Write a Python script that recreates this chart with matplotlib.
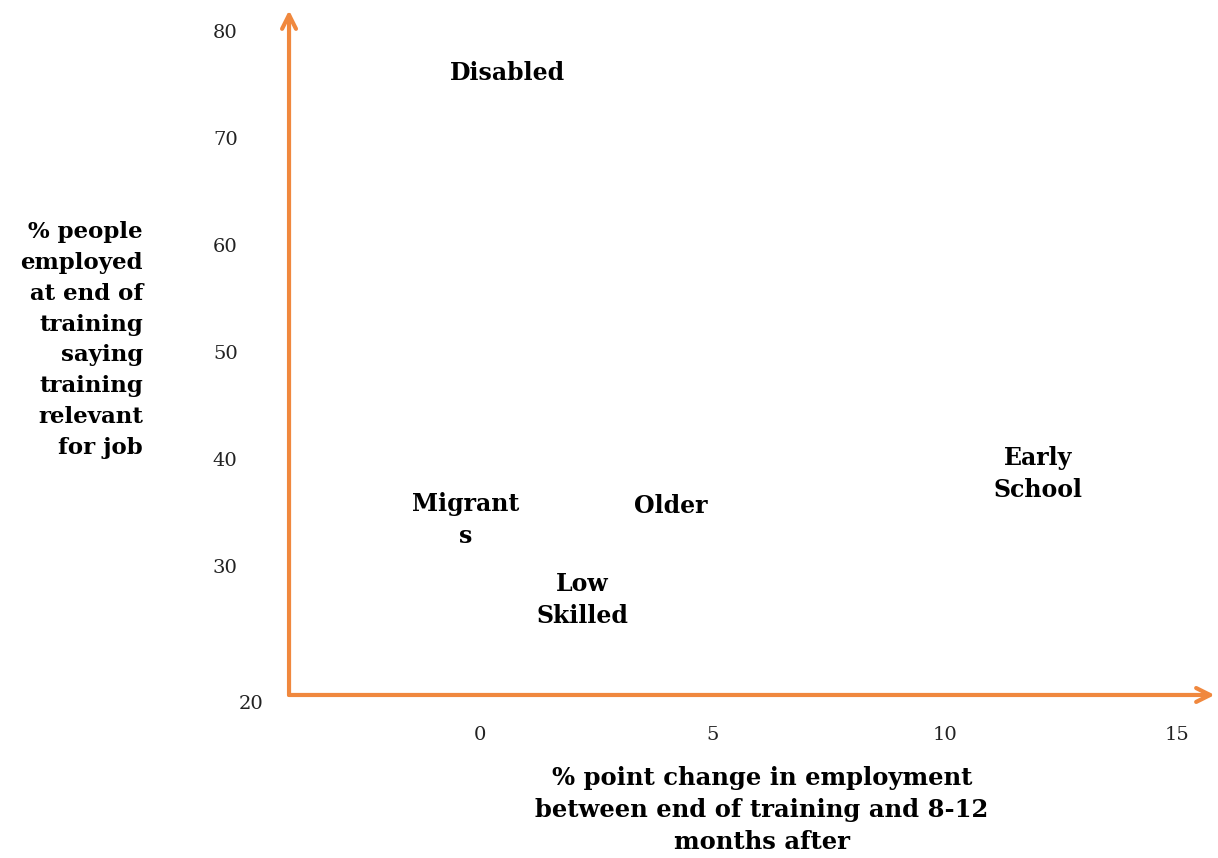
import matplotlib

matplotlib.use('Agg')
import matplotlib.pyplot as plt
import matplotlib.transforms as mtransforms

# groups and their positions (x: % point change, y: % saying training relevant)
groups = ['Disabled', 'Migrant\ns', 'Older', 'Low\nSkilled', 'Early\nSchool']
change = [0.6, -0.3, 4.1, 2.2, 12.0]
relevant = [76.0, 34.3, 35.6, 26.8, 38.6]

x_ticks = [0, 5, 10, 15]
y_ticks = [20, 30, 40, 50, 60, 70, 80]

orange = '#F0883E'
plt.rcParams['font.family'] = ['DejaVu Serif']

fig = plt.figure(figsize=(12.18, 8.58), dpi=100)
ax = fig.add_axes([0.2373, 0.19, 0.760, 0.798])

ax.set_xlim(-4.1, 15.8)
ax.set_ylim(17.97, 81.9)

# labels drawn as text at the data points
for name, x, y in zip(groups, change, relevant):
    ax.text(x, y, name, ha='center', va='center', fontsize=17,
            fontweight='bold', linespacing=1.42)

for s in ax.spines.values():
    s.set_visible(False)

# axis arrows
ax.annotate('', xy=(0, 1), xytext=(0, 0), xycoords='axes fraction',
            arrowprops=dict(arrowstyle='->', color=orange, lw=3,
                            mutation_scale=25, shrinkA=0, shrinkB=0))
ax.annotate('', xy=(1, 0), xytext=(0, 0), xycoords='axes fraction',
            arrowprops=dict(arrowstyle='->', color=orange, lw=3,
                            mutation_scale=25, shrinkA=0, shrinkB=0))

ax.set_xticks(x_ticks)
ax.set_yticks(y_ticks)
ax.tick_params(axis='both', length=0, labelsize=14, colors='#222222')
ax.tick_params(axis='x', pad=22)
ax.tick_params(axis='y', pad=37)

# the "20" label sits at the axis line in the original
offset = mtransforms.ScaledTranslation(0.26, -0.29, fig.dpi_scale_trans)
lab20 = ax.get_yticklabels()[0]
lab20.set_transform(lab20.get_transform() + offset)

fig.text(143 / 1218, 1 - 340 / 858,
         '% people\nemployed\nat end of\ntraining\nsaying\ntraining\nrelevant\nfor job',
         ha='right', va='center', fontsize=16.5, fontweight='bold', linespacing=1.52)
fig.text(762 / 1218, 1 - 810 / 858,
         '% point change in employment\nbetween end of training and 8-12\nmonths after',
         ha='center', va='center', fontsize=17.5, fontweight='bold', linespacing=1.43)

fig.savefig('out.png', dpi=100)
